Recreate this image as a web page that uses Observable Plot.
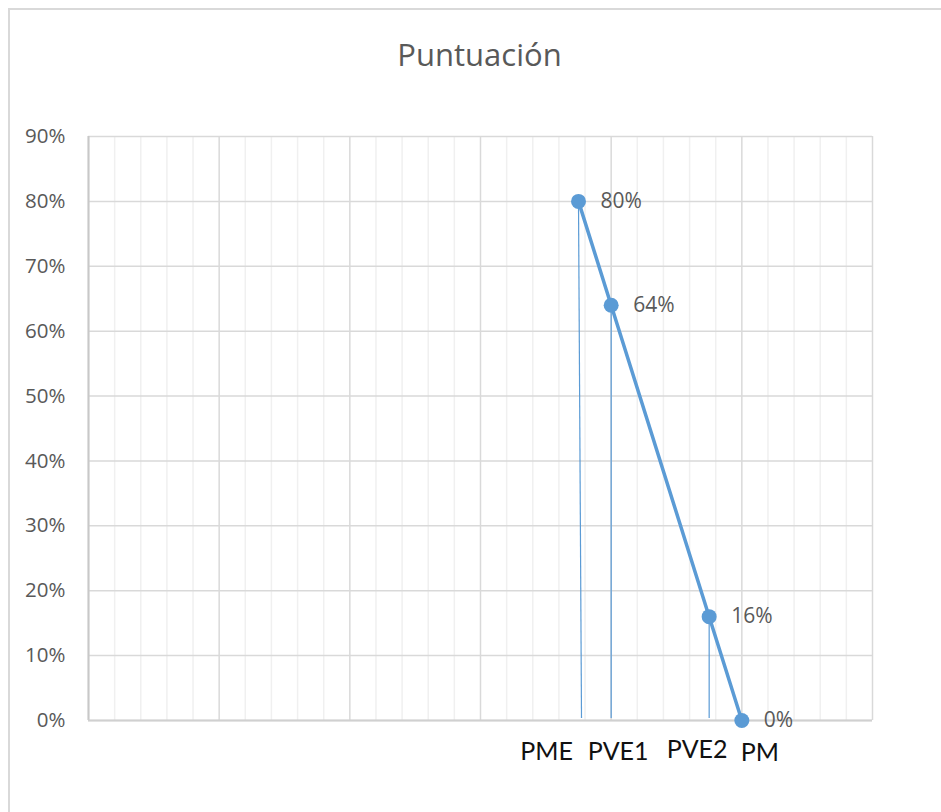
<!DOCTYPE html>
<html>
<head>
<meta charset="utf-8">
<script src="https://cdn.jsdelivr.net/npm/d3@7"></script>
<script src="https://cdn.jsdelivr.net/npm/@observablehq/plot@0.6"></script>
<style>
  html, body { margin: 0; padding: 0; background: #fff; overflow: hidden; }
  #frame { position: absolute; left: 8px; top: 8px; width: 1000px; height: 900px; z-index: 10;
           border: 2px solid #d9d9d9; box-sizing: border-box; pointer-events: none; background: transparent; }
  #wrap { position: absolute; left: 0; top: 0; width: 941px; }
  #title { height: 100px; font-family: "Open Sans", sans-serif; font-size: 31px; color: #595959;
           text-align: center; line-height: 108px; padding-left: 18px; box-sizing: border-box; }
  svg { display: block; }
</style>
</head>
<body>
<div id="wrap">
  <div id="title">Puntuación</div>
  <div id="chart"></div>
</div>
<div id="frame"></div>
<script>
// Data
const categories = ["PME", "PVE1", "PVE2", "PM"];
const xValues = [0.75, 0.80, 0.95, 1.00];
const scores = [0.80, 0.64, 0.16, 0.00];
const dropBase = [0.7546, 0.80, 0.95, 1.00];
const yTicks = [0, 0.1, 0.2, 0.3, 0.4, 0.5, 0.6, 0.7, 0.8, 0.9];
const xMajor = [0, 0.2, 0.4, 0.6, 0.8, 1.0, 1.2];
const xMinor = [0.04, 0.08, 0.12, 0.16, 0.24, 0.28, 0.32, 0.36, 0.44, 0.48, 0.52, 0.56,
                0.64, 0.68, 0.72, 0.76, 0.84, 0.88, 0.92, 0.96, 1.04, 1.08, 1.12, 1.16];

const rows = categories.map((c, i) => ({cat: c, x: xValues[i], y: scores[i], xb: dropBase[i]}));
const drops = rows.filter(d => d.y > 0);
const labelDx = {PME: -32, PVE1: 7, PVE2: -12, PM: 18};
const labelDy = {PME: 31, PVE1: 31, PVE2: 29, PM: 32};

const blue = "#5b9bd5";
const grayText = "#595959";

const chart = Plot.plot({
  width: 941,
  height: 712,
  marginLeft: 88,
  marginRight: 69,
  marginTop: 36,
  marginBottom: 92,
  style: {fontFamily: "Open Sans, sans-serif", background: "#fff", overflow: "visible"},
  x: {domain: [0, 1.2], axis: null},
  y: {domain: [0, 0.9], axis: null},
  marks: [
    Plot.ruleX(xMinor, {stroke: "#f0f0f0", strokeWidth: 1.5}),
    Plot.ruleY(yTicks, {stroke: "#d9d9d9", strokeWidth: 1.5}),
    Plot.ruleX(xMajor, {stroke: "#d9d9d9", strokeWidth: 1.5}),
    Plot.ruleX([0], {stroke: "#c8c8c8", strokeWidth: 2}),
    Plot.ruleY([0], {stroke: "#d0d0d0", strokeWidth: 2}),
    Plot.axisY(yTicks, {tickFormat: d3.format(".0%"), tickSize: 0, tickPadding: 23,
                        fontSize: 20.5, fill: grayText, label: null}),
    Plot.link(drops, {x1: "x", y1: "y", x2: "xb", y2: () => 0.004, stroke: blue, strokeWidth: 1.2}),
    Plot.line(rows, {x: "x", y: "y", stroke: blue, strokeWidth: 3.5}),
    Plot.dot(rows, {x: "x", y: "y", r: 7.5, fill: blue, stroke: "none"}),
    Plot.text(rows, {x: "x", y: "y", text: d => d3.format(".0%")(d.y), dx: 22, textAnchor: "start",
                     fontSize: 21, fill: grayText}),
    ...rows.map(d => Plot.text([d], {x: "x", y: () => 0, text: "cat", dx: labelDx[d.cat], dy: labelDy[d.cat],
                     fontSize: 25, fill: "#111", fontFamily: "Lato, sans-serif"}))
  ]
});
document.getElementById("chart").appendChild(chart);
</script>
</body>
</html>
